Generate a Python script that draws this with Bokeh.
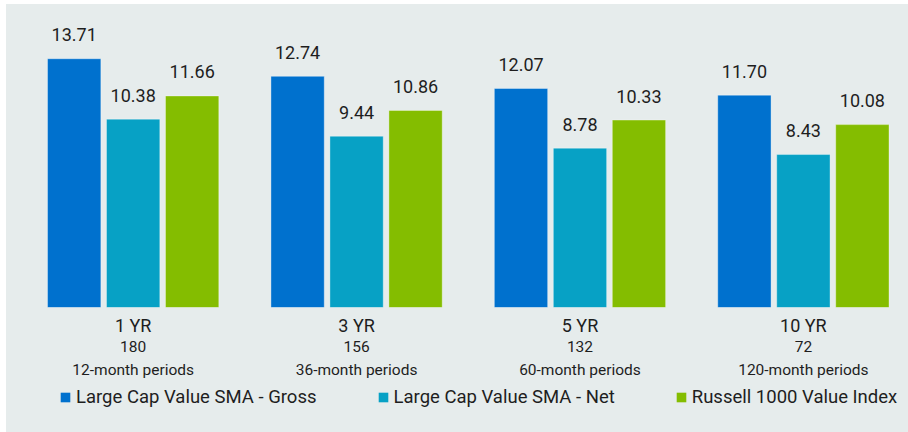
from bokeh.plotting import figure
from bokeh.layouts import column
from bokeh.models import ColumnDataSource, LinearAxis, FixedTicker, Legend, LegendItem, Range1d
from bokeh.transform import dodge
from bokeh.core.properties import value
from bokeh.embed import file_html
from bokeh.resources import INLINE

# ---- data ----
periods = ["1 YR", "3 YR", "5 YR", "10 YR"]
counts = ["180", "156", "132", "72"]
period_desc = ["12-month periods", "36-month periods", "60-month periods", "120-month periods"]
gross = [13.71, 12.74, 12.07, 11.70]
net = [10.38, 9.44, 8.78, 8.43]
index = [11.66, 10.86, 10.33, 10.08]
series_names = ["Large Cap Value SMA - Gross", "Large Cap Value SMA - Net", "Russell 1000 Value Index"]

# ---- styles ----
BG = "#E6ECEC"
TXT = "#1E1E1E"
COLORS = ["#0071CE", "#07A1C5", "#84BD00"]
FONT = value("Roboto")
OFF = 0.264
BW = 0.2386

xs = list(range(len(periods)))
src = ColumnDataSource(dict(
    x=xs, gross=gross, net=net, index=index,
    gross_lbl=[f"{v:.2f}" for v in gross],
    net_lbl=[f"{v:.2f}" for v in net],
    index_lbl=[f"{v:.2f}" for v in index],
))

p = figure(frame_width=902, frame_height=303, output_backend="svg", toolbar_location=None,
           x_range=Range1d(-0.567, 3.4705), y_range=Range1d(0, 16.7),
           x_axis_location=None, y_axis_location=None,
           min_border_left=0, min_border_right=0, min_border_top=0, min_border_bottom=75)
p.background_fill_color = BG
p.border_fill_color = BG
p.outline_line_color = None
p.grid.grid_line_color = None

for col, off, color in zip(["gross", "net", "index"], [-OFF, 0, OFF], COLORS):
    p.vbar(x=dodge("x", off, range=p.x_range), top=col, width=BW, source=src,
           fill_color=color, line_color="white", line_alpha=0.35, line_width=1)
    p.text(x=dodge("x", off, range=p.x_range), y=col, text=col + "_lbl", source=src,
           text_align="center", text_baseline="alphabetic", y_offset=-24,
           text_font=FONT, text_font_size="18px", text_color=TXT)

def add_axis(labels, size, standoff):
    ax = LinearAxis(ticker=FixedTicker(ticks=xs),
                    major_label_overrides={i: s for i, s in zip(xs, labels)})
    ax.axis_line_color = None
    ax.major_tick_line_color = None
    ax.minor_tick_line_color = None
    ax.major_tick_out = 0
    ax.major_tick_in = 0
    ax.major_label_standoff = standoff
    ax.major_label_text_font = "Roboto"
    ax.major_label_text_font_size = size
    ax.major_label_text_color = TXT
    p.add_layout(ax, "below")

add_axis(periods, "18px", 7)
add_axis(counts, "15.5px", 2)
add_axis(period_desc, "15.5px", 6)

# ---- legend strip (swatch renderers sit fully outside the visible ranges) ----
p2 = figure(frame_width=902, frame_height=50, output_backend="svg", toolbar_location=None,
            x_range=Range1d(0, 1), y_range=Range1d(0, 1),
            x_axis_location=None, y_axis_location=None,
            min_border_left=0, min_border_right=0, min_border_top=0, min_border_bottom=0)
p2.background_fill_color = BG
p2.border_fill_color = BG
p2.outline_line_color = None
p2.grid.grid_line_color = None
items = []
for name, color in zip(series_names, COLORS):
    r = p2.vbar(x=[-10], bottom=[-10], top=[-9], width=BW, fill_color=color, line_color=None)
    items.append(LegendItem(label=name, renderers=[r]))

legend = Legend(items=items, orientation="horizontal", location=(53, 24),
                glyph_width=12, glyph_height=12, label_standoff=5, spacing=60,
                padding=0, margin=0, border_line_color=None, background_fill_alpha=0,
                label_text_font="Roboto", label_text_font_size="18.5px", label_text_color=TXT)
p2.add_layout(legend)

layout = column(p, p2, spacing=0, margin=(4, 0, 0, 6))
layout.styles = {"background-color": BG}
open("out.html", "w").write(file_html(layout, INLINE))
